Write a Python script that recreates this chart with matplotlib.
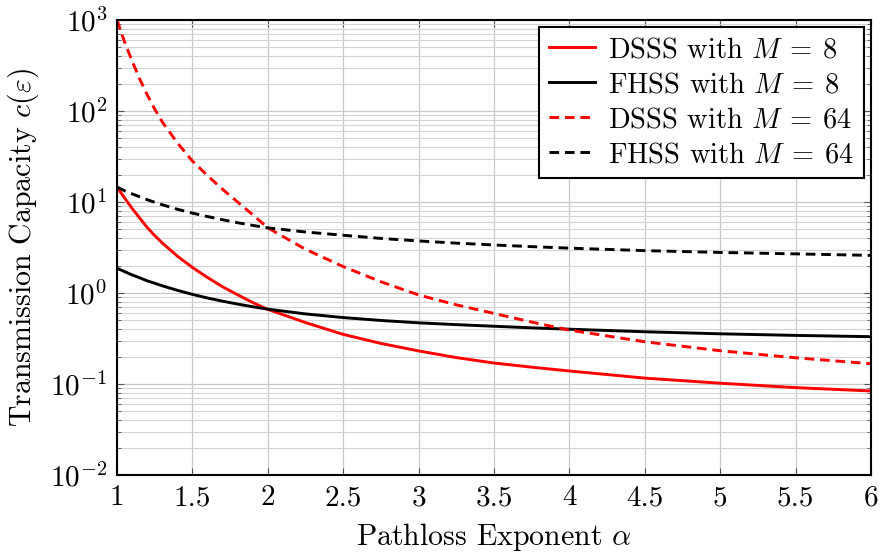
import matplotlib
matplotlib.use("Agg")
import matplotlib.pyplot as plt
from matplotlib.ticker import LogLocator, NullFormatter, FixedLocator, FixedFormatter

plt.rcParams["font.family"] = "cmr10"
plt.rcParams["mathtext.fontset"] = "cm"
plt.rcParams["axes.formatter.use_mathtext"] = True

alpha = [1.0, 1.05, 1.1, 1.15, 1.2, 1.25, 1.3, 1.4, 1.5, 1.6, 1.7, 1.8, 1.9, 2.0,
         2.25, 2.5, 2.75, 3.0, 3.25, 3.5, 3.75, 4.0, 4.5, 5.0, 5.5, 6.0]

dsss_m8 = [14.5, 11.1, 8.51, 6.68, 5.25, 4.27, 3.55, 2.54, 1.91, 1.48, 1.17, 0.955, 0.785, 0.661,
           0.473, 0.351, 0.279, 0.231, 0.195, 0.170, 0.153, 0.139, 0.116, 0.102, 0.0912, 0.0838]
fhss_m8 = [1.87, 1.72, 1.58, 1.47, 1.36, 1.28, 1.20, 1.07, 0.966, 0.881, 0.813, 0.755, 0.706, 0.664,
           0.589, 0.537, 0.499, 0.470, 0.449, 0.431, 0.414, 0.400, 0.375, 0.356, 0.342, 0.331]
dsss_m64 = [1000, 575, 355, 226, 151, 105, 75.9, 44.7, 28.2, 19.5, 13.8, 10.0, 7.24, 5.20,
            3.02, 1.95, 1.33, 0.951, 0.741, 0.596, 0.479, 0.391, 0.291, 0.232, 0.194, 0.167]
fhss_m64 = [14.6, 13.3, 12.3, 11.4, 10.6, 9.93, 9.33, 8.32, 7.55, 6.92, 6.38, 5.92, 5.53, 5.20,
            4.68, 4.31, 3.98, 3.73, 3.53, 3.37, 3.23, 3.11, 2.92, 2.79, 2.69, 2.59]

xticks = [1, 1.5, 2, 2.5, 3, 3.5, 4, 4.5, 5, 5.5, 6]
xtick_labels = ["1", "1.5", "2", "2.5", "3", "3.5", "4", "4.5", "5", "5.5", "6"]

fig = plt.figure(figsize=(8.81, 5.52), dpi=100)
ax = fig.add_axes([0.1328, 0.1395, 0.8559, 0.8243])

lw = 2.1
dash = (3.3, 2.0)
ax.plot(alpha, dsss_m8, color="red", lw=lw, label=r"DSSS with $M\:=\:8$")
ax.plot(alpha, fhss_m8, color="black", lw=lw, label=r"FHSS with $M\:=\:8$")
ax.plot(alpha, dsss_m64, color="red", lw=lw, dashes=dash, label=r"DSSS with $M\:=\:64$")
ax.plot(alpha, fhss_m64, color="black", lw=lw, dashes=dash, label=r"FHSS with $M\:=\:64$")

ax.set_yscale("log")
ax.set_xlim(1, 6)
ax.set_ylim(1e-2, 1e3)
ax.yaxis.set_major_locator(LogLocator(base=10, numticks=10))
ax.yaxis.set_minor_locator(LogLocator(base=10, subs=range(2, 10), numticks=20))
ax.yaxis.set_minor_formatter(NullFormatter())
ax.xaxis.set_major_locator(FixedLocator(xticks))
ax.xaxis.set_major_formatter(FixedFormatter(xtick_labels))

ax.grid(True, which="major", color="#c8c8c8", lw=0.9)
ax.grid(True, which="minor", axis="y", color="#d4d4d4", lw=0.8)
ax.set_axisbelow(True)

ax.tick_params(which="both", direction="in", top=True, right=True, color="#555555")
ax.tick_params(which="major", length=5, labelsize=21, pad=7)
ax.tick_params(which="minor", length=3)
for s in ax.spines.values():
    s.set_linewidth(1.5)

ax.set_xlabel(r"Pathloss Exponent $\alpha$", fontsize=21.5, labelpad=7)
ax.set_ylabel(r"Transmission Capacity $c(\varepsilon)$", fontsize=21.5, labelpad=6)

leg = ax.legend(loc="upper right", fontsize=20.5, frameon=True, fancybox=False,
                edgecolor="black", framealpha=1, handlelength=1.6,
                borderaxespad=0.25, labelspacing=0.3, handletextpad=0.45,
                borderpad=0.35)
leg.get_frame().set_linewidth(1.5)

fig.savefig("out.png", dpi=100)
